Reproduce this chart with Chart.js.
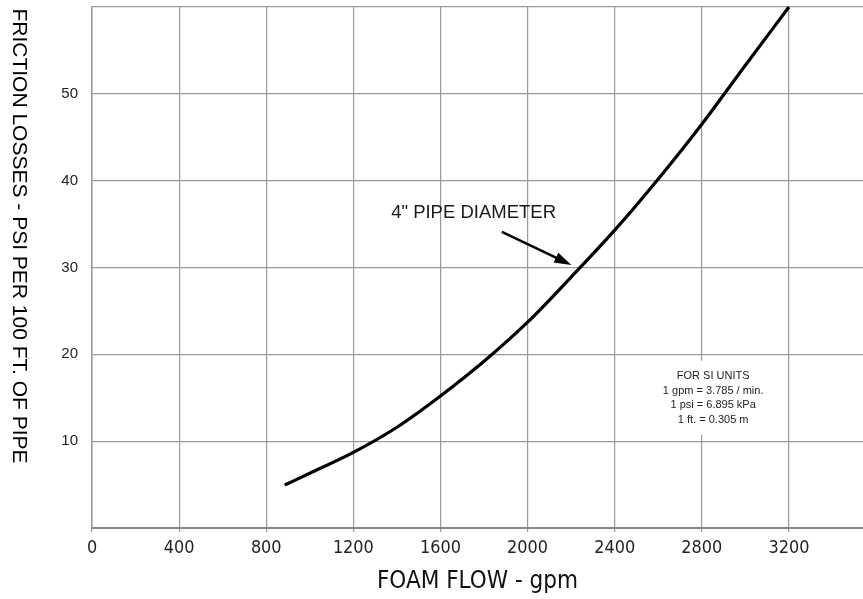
<!DOCTYPE html>
<html><head><meta charset="utf-8">
<script src="https://cdn.jsdelivr.net/npm/chart.js@4"></script>
<style>html,body{margin:0;padding:0;background:#fff;}#wrap{width:863px;height:599px;position:relative}</style>
</head><body><div id="wrap"><canvas id="c" width="863" height="599"></canvas></div>
<script>
// ---- data ----
const flowGpm      = [885, 1000, 1200, 1400, 1600, 1800, 2000, 2200, 2400, 2600, 2800, 3000, 3200];
const frictionPsi  = [4.95, 6.3, 8.7, 11.6, 15.2, 19.2, 23.7, 28.9, 34.3, 40.2, 46.5, 53.3, 60.0];
const xTickValues  = [0, 400, 800, 1200, 1600, 2000, 2400, 2800, 3200];
const yTickValues  = [0, 10, 20, 30, 40, 50, 60];
const yTickLabels  = ['', '10', '20', '30', '40', '50', ''];
const curveLabel   = '4" PIPE DIAMETER';
const noteLines    = ['FOR SI UNITS', '1 gpm = 3.785 / min.', '1 psi = 6.895 kPa', '1 ft. = 0.305 m'];
const xTitle       = 'FOAM FLOW - gpm';
const yTitle       = 'FRICTION LOSSES - PSI PER 100 FT. OF PIPE';
// annotation anchors (data units)
const labelAt   = {x: 1752, y: 36.3};
const arrowFrom = {x: 1882, y: 34.1};
const arrowTo   = {x: 2201, y: 30.3};
const noteAt    = {x: 2852, y: 15.0};

// ---- font helpers (style only) ----
const mctx = document.createElement('canvas').getContext('2d');
function hasFont(name) {
  const t = '3200 FOAM FLOW';
  for (const base of ['monospace', 'serif']) {
    mctx.font = '40px ' + base; const a = mctx.measureText(t).width;
    mctx.font = '40px "' + name + '", ' + base; const b = mctx.measureText(t).width;
    if (Math.abs(a - b) > 0.5) return true;
  }
  return false;
}
const narrowFam = hasFont('Liberation Sans Narrow') ? '"Liberation Sans Narrow"'
  : (hasFont('DejaVu Sans Condensed') ? '"DejaVu Sans Condensed"' : '"Liberation Sans"');
const regFam = '"Liberation Sans", Arial, sans-serif';
function fitSize(fam, text, targetW) {
  mctx.font = '10px ' + fam;
  return Math.round(10 * targetW / mctx.measureText(text).width * 10) / 10;
}
const xTickSize = Math.min(22, fitSize(narrowFam, '3200', 41));
const xTitleSize = Math.min(24, fitSize(narrowFam, xTitle, 205));
const yTitleSize = fitSize(regFam, yTitle, 455);

const annotations = {
  id: 'annotations',
  afterDraw(chart) {
    const {ctx, scales: {x, y}} = chart;
    ctx.save();
    ctx.textAlign = 'center';
    ctx.textBaseline = 'middle';
    // curve label
    ctx.fillStyle = '#1a1a1a';
    ctx.font = '18.5px ' + regFam;
    ctx.fillText(curveLabel, x.getPixelForValue(labelAt.x), y.getPixelForValue(labelAt.y));
    // arrow
    const x1 = x.getPixelForValue(arrowFrom.x), y1 = y.getPixelForValue(arrowFrom.y);
    const x2 = x.getPixelForValue(arrowTo.x), y2 = y.getPixelForValue(arrowTo.y);
    const ang = Math.atan2(y2 - y1, x2 - x1);
    const hl = 17, hw = 5.5;
    ctx.strokeStyle = '#000';
    ctx.lineWidth = 2.6;
    ctx.beginPath();
    ctx.moveTo(x1, y1);
    ctx.lineTo(x2 - Math.cos(ang) * hl * 0.8, y2 - Math.sin(ang) * hl * 0.8);
    ctx.stroke();
    ctx.fillStyle = '#000';
    ctx.beginPath();
    ctx.moveTo(x2, y2);
    ctx.lineTo(x2 - Math.cos(ang) * hl - Math.sin(ang) * hw, y2 - Math.sin(ang) * hl + Math.cos(ang) * hw);
    ctx.lineTo(x2 - Math.cos(ang) * hl + Math.sin(ang) * hw, y2 - Math.sin(ang) * hl - Math.cos(ang) * hw);
    ctx.closePath();
    ctx.fill();
    // SI note with white backing
    const cx = x.getPixelForValue(noteAt.x), cy = y.getPixelForValue(noteAt.y);
    const lh = 14.5;
    ctx.font = '11px ' + regFam;
    let w = 0;
    noteLines.forEach(t => { w = Math.max(w, ctx.measureText(t).width); });
    const h = lh * noteLines.length;
    ctx.fillStyle = '#fff';
    ctx.fillRect(cx - w / 2 - 12, cy - h / 2 - 8, w + 24, h + 16);
    ctx.fillStyle = '#222';
    noteLines.forEach((t, i) => {
      ctx.fillText(t, cx, cy - h / 2 + lh * (i + 0.5));
    });
    // y axis title (reads top to bottom)
    ctx.font = yTitleSize + 'px ' + regFam;
    ctx.fillStyle = '#000';
    ctx.translate(19, 236);
    ctx.rotate(Math.PI / 2);
    ctx.fillText(yTitle, 0, 0);
    ctx.restore();
  }
};

new Chart(document.getElementById('c'), {
  type: 'scatter',
  data: {
    datasets: [{
      data: flowGpm.map((v, i) => ({x: v, y: frictionPsi[i]})),
      showLine: true,
      borderColor: '#000',
      borderWidth: 3.2,
      pointRadius: 0,
      cubicInterpolationMode: 'monotone',
      clip: false
    }]
  },
  options: {
    responsive: false,
    animation: false,
    layout: {padding: {top: 7, left: 0, right: 0, bottom: 0}},
    plugins: {legend: {display: false}, tooltip: {enabled: false}},
    scales: {
      x: {
        type: 'linear', min: 0, max: 3540,
        afterBuildTicks: s => { s.ticks = xTickValues.map(v => ({value: v})); },
        afterFit: s => { s.height = 71; s.paddingLeft = 0; s.paddingRight = 0; },
        grid: {color: '#999', lineWidth: 1.2, tickLength: 4},
        border: {color: '#888', width: 2},
        ticks: {
          color: '#222', padding: 6, maxRotation: 0, autoSkip: false,
          font: {family: narrowFam + ', sans-serif', size: xTickSize},
          callback: v => String(v)
        },
        title: {
          display: true, text: xTitle, color: '#111', padding: {top: 0, bottom: 3},
          font: {family: narrowFam + ', sans-serif', size: xTitleSize}
        }
      },
      y: {
        type: 'linear', min: 0, max: 60,
        afterBuildTicks: s => { s.ticks = yTickValues.map(v => ({value: v})); },
        afterFit: s => { s.width = 92; s.paddingTop = 0; s.paddingBottom = 0; },
        grid: {color: '#999', lineWidth: 1.2, drawTicks: false},
        border: {color: '#999', width: 1.5},
        ticks: {
          color: '#222', padding: 14, autoSkip: false,
          font: {family: regFam, size: 15},
          callback: (v, i) => yTickLabels[i]
        }
      }
    }
  },
  plugins: [annotations]
});
</script>
</body></html>
